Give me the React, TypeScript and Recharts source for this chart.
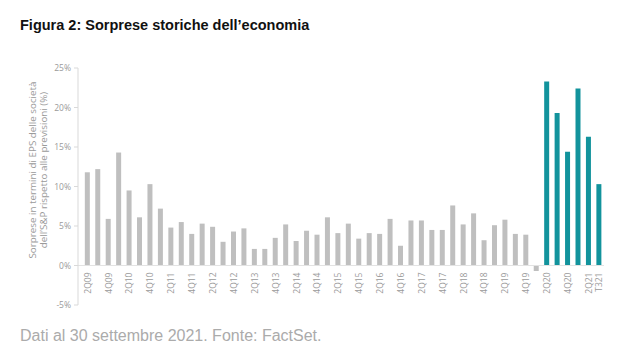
import { BarChart, Bar, Cell, XAxis, YAxis, ReferenceLine } from "recharts";

const quarters = [
    "2Q09", "3Q09", "4Q09",
    "1Q10", "2Q10", "3Q10", "4Q10",
    "1Q11", "2Q11", "3Q11", "4Q11",
    "1Q12", "2Q12", "3Q12", "4Q12",
    "1Q13", "2Q13", "3Q13", "4Q13",
    "1Q14", "2Q14", "3Q14", "4Q14",
    "1Q15", "2Q15", "3Q15", "4Q15",
    "1Q16", "2Q16", "3Q16", "4Q16",
    "1Q17", "2Q17", "3Q17", "4Q17",
    "1Q18", "2Q18", "3Q18", "4Q18",
    "1Q19", "2Q19", "3Q19", "4Q19",
    "1Q20", "2Q20", "3Q20", "4Q20",
    "1Q21", "2Q21", "T321",
];

const surprise = [
    11.8, 12.2, 5.9,
    14.3, 9.5, 6.1, 10.3,
    7.2, 4.8, 5.5, 4.0,
    5.3, 4.9, 3.0, 4.3,
    4.7, 2.1, 2.1, 3.5,
    5.2, 3.1, 4.4, 3.9,
    6.1, 4.1, 5.3, 3.4,
    4.1, 4.0, 5.9, 2.5,
    5.7, 5.7, 4.5, 4.5,
    7.6, 5.2, 6.6, 3.2,
    5.1, 5.8, 4.0, 3.9,
    -0.7, 23.3, 19.3, 14.4,
    22.4, 16.3, 10.3,
];

const pandemicQuarters = ["2Q20", "3Q20", "4Q20", "1Q21", "2Q21", "T321"];

const yTicks = [-5, 0, 5, 10, 15, 20, 25];

const GRAY = "#bfbfbf";
const TEAL = "#12939c";
const TEXT = "#9a9a9a";

const W = 628;
const H = 363;
const TOP = 68;
const BOTTOM = 305;
const X_AXIS_H = 30;
const Y_MIN = -5;
const Y_MAX = 25;
// distance from the bottom of the plot up to the zero line
const ZERO_OFFSET = ((BOTTOM - TOP) * (0 - Y_MIN)) / (Y_MAX - Y_MIN);

const rows = quarters.map((q, i) => ({ q, v: surprise[i] }));

function QuarterTick(props: any) {
    const { x, y, payload, index } = props;
    const last = index === quarters.length - 1;
    if (index % 2 !== 0 && !last) return null;
    const ty = y - ZERO_OFFSET + 5;
    return (
        <text
            x={x}
            y={ty}
            transform={`rotate(-90 ${x} ${ty})`}
            textAnchor="end"
            dominantBaseline="central"
            fontSize={8.5}
            fill={TEXT}
            fontFamily="'Open Sans', sans-serif"
        >
            {payload.value}
        </text>
    );
}

export default function App() {
    return (
        <div
            style={{
                position: "absolute",
                left: 0,
                top: 0,
                width: W,
                height: H,
                background: "#fff",
                overflow: "hidden",
            }}
        >
            <div
                style={{
                    position: "absolute",
                    left: 20,
                    top: 17,
                    fontFamily: "'Liberation Sans', Arial, sans-serif",
                    fontWeight: 700,
                    fontSize: 14.5,
                    color: "#111",
                }}
            >
                Figura 2: Sorprese storiche dell’economia
            </div>

            <div style={{ position: "absolute", left: 0, top: 0 }}>
                <BarChart
                    width={W}
                    height={H}
                    data={rows}
                    margin={{ top: TOP, bottom: H - BOTTOM - X_AXIS_H, left: 48, right: 24 }}
                    barCategoryGap="27%"
                >
                    <YAxis
                        width={30}
                        domain={[Y_MIN, Y_MAX]}
                        ticks={yTicks}
                        allowDataOverflow
                        tickFormatter={(v: number) => `${v}%`}
                        tick={{ fontSize: 8.5, fill: TEXT, fontFamily: "'Open Sans', sans-serif" }}
                        axisLine={{ stroke: "#d9d9d9" }}
                        tickLine={{ stroke: "#d9d9d9" }}
                        tickSize={4}
                        tickMargin={3}
                    />
                    <XAxis
                        dataKey="q"
                        interval={0}
                        height={X_AXIS_H}
                        axisLine={false}
                        tickLine={false}
                        tickSize={0}
                        padding={{ left: 4, right: 0 }}
                        tick={<QuarterTick />}
                    />
                    <ReferenceLine y={0} stroke="#e3e3e3" />
                    <Bar dataKey="v" isAnimationActive={false}>
                        {rows.map((r) => (
                            <Cell key={r.q} fill={pandemicQuarters.includes(r.q) ? TEAL : GRAY} />
                        ))}
                    </Bar>
                </BarChart>
            </div>

            <svg
                width={60}
                height={H}
                style={{ position: "absolute", left: 0, top: 0 }}
                fontFamily="'Open Sans', sans-serif"
                fontSize={9.8}
                fill={TEXT}
            >
                <text x={36} y={170} transform="rotate(-90 36 170)" textAnchor="middle">
                    Sorprese in termini di EPS delle società
                </text>
                <text x={47} y={170} transform="rotate(-90 47 170)" textAnchor="middle">
                    dell’S&amp;P rispetto alle previsioni (%)
                </text>
            </svg>

            <div
                style={{
                    position: "absolute",
                    left: 20,
                    top: 327,
                    fontFamily: "'Liberation Sans', Arial, sans-serif",
                    fontSize: 16,
                    color: "#ababab",
                }}
            >
                Dati al 30 settembre 2021. Fonte: FactSet.
            </div>
        </div>
    );
}
